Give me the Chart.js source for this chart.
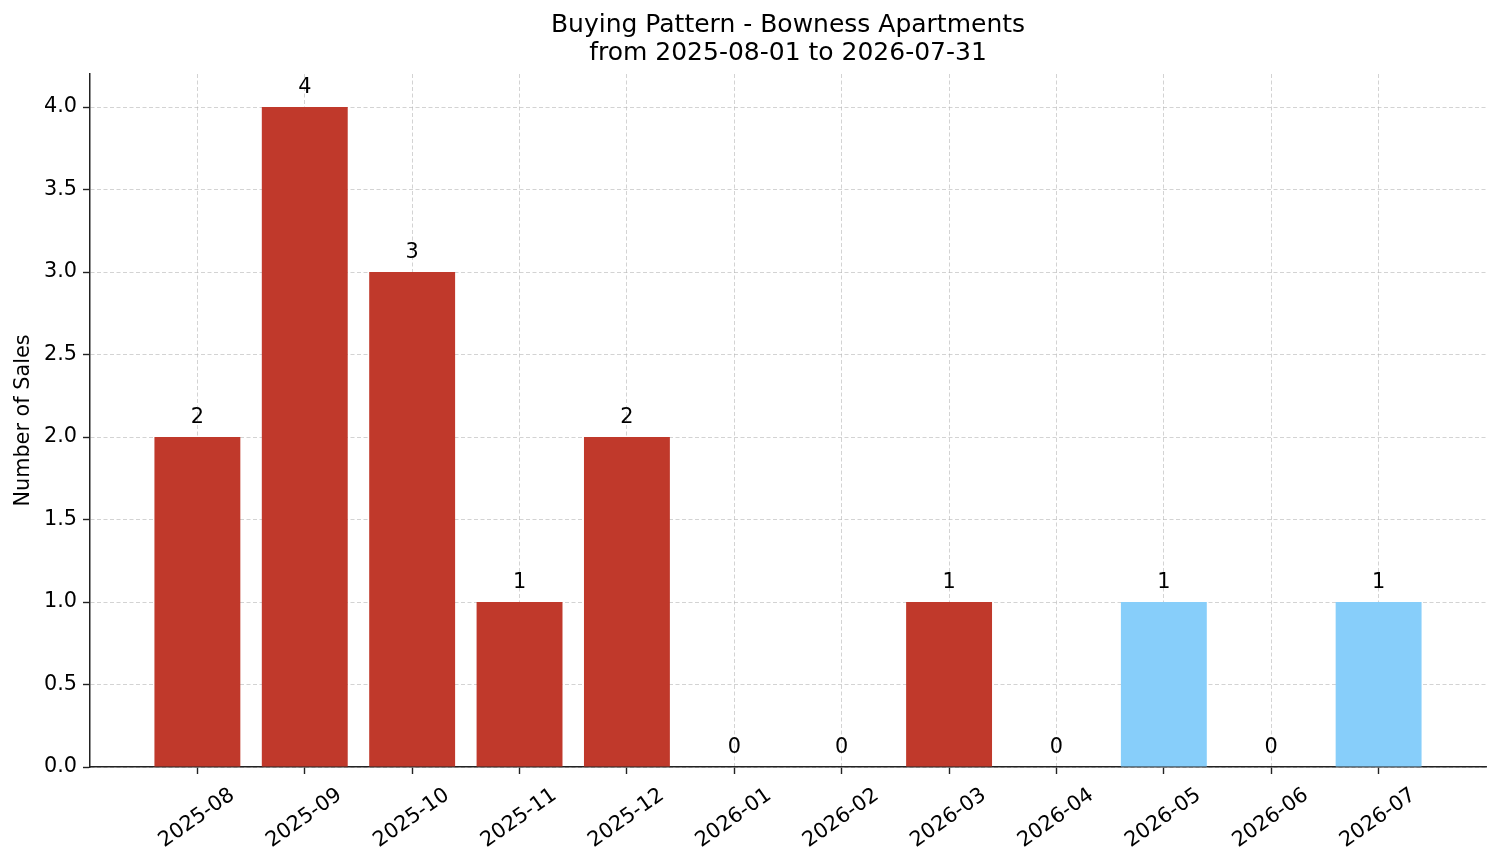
<!DOCTYPE html>
<html>
<head>
<meta charset="utf-8">
<script src="https://cdn.jsdelivr.net/npm/chart.js@4/dist/chart.umd.min.js"></script>
<style>
    html, body { margin: 0; padding: 0; background: #fff; }
    #wrap { width: 1501px; height: 863px; position: relative; }
</style>
</head>
<body>
<div id="wrap"><canvas id="salesChart"></canvas></div>
<script>
// Data
const months = ['2025-08', '2025-09', '2025-10', '2025-11', '2025-12', '2026-01',
                '2026-02', '2026-03', '2026-04', '2026-05', '2026-06', '2026-07'];
const sales = [2, 4, 3, 1, 2, 0, 0, 1, 0, 1, 0, 1];
const highlightMonths = ['2026-05', '2026-07'];
const yTicks = [0, 0.5, 1, 1.5, 2, 2.5, 3, 3.5, 4];
const titleLines = ['Buying Pattern - Bowness Apartments', 'from 2025-08-01 to 2026-07-31'];

const FONT = "'DejaVu Sans', sans-serif";
const RED = '#c0392b';
const BLUE = '#87cefa';
const GRID = 'rgba(185, 185, 185, 0.7)';
const SPINE = '#222';

// value labels above each bar + title centred over the plot area
const annotate = {
    id: 'annotate',
    afterDraw(chart) {
        const ctx = chart.ctx;
        const area = chart.chartArea;
        const meta = chart.getDatasetMeta(0);
        ctx.save();
        ctx.fillStyle = '#000';
        ctx.textAlign = 'center';

        ctx.font = '20.8px ' + FONT;
        ctx.textBaseline = 'alphabetic';
        meta.data.forEach((bar, i) => {
            ctx.fillText(String(sales[i]), bar.x, bar.y - 14);
        });

        ctx.font = '25px ' + FONT;
        ctx.textBaseline = 'middle';
        const cx = (area.left + area.right) / 2;
        titleLines.forEach((line, i) => {
            ctx.fillText(line, cx, area.top - 49 + i * 28);
        });
        ctx.restore();
    }
};

const gridOpts = {
    offset: false,
    color: GRID,
    lineWidth: 0.9,
    tickColor: SPINE,
    tickWidth: 1.4,
    tickLength: 7,
    tickBorderDash: []
};

new Chart(document.getElementById('salesChart'), {
    type: 'bar',
    data: {
        datasets: [{
            data: sales.map((v, i) => ({ x: i, y: v })),
            backgroundColor: months.map(m => highlightMonths.includes(m) ? BLUE : RED),
            barPercentage: 0.8,
            categoryPercentage: 1
        }]
    },
    options: {
        responsive: true,
        maintainAspectRatio: false,
        animation: false,
        layout: { padding: { left: 0, right: 15, top: 74, bottom: 0 } },
        plugins: {
            legend: { display: false },
            tooltip: { enabled: false },
            title: { display: false }
        },
        scales: {
            x: {
                type: 'linear',
                min: -1,
                max: 12,
                z: 1,
                offset: false,
                afterBuildTicks: scale => {
                    scale.ticks = months.map((m, i) => ({ value: i }));
                },
                afterFit: scale => {
                    scale.height = 96;
                    scale.paddingLeft = 0;
                    scale.paddingRight = 0;
                },
                ticks: {
                    callback: v => months[v],
                    color: '#000',
                    font: { family: FONT, size: 20.8 },
                    minRotation: 35,
                    maxRotation: 35,
                    autoSkip: false,
                    labelOffset: 35,
                    padding: 9
                },
                grid: gridOpts,
                border: { color: SPINE, width: 1.5, dash: [4, 2.5] }
            },
            y: {
                min: 0,
                max: 4.2,
                z: 1,
                afterBuildTicks: scale => {
                    scale.ticks = yTicks.map(v => ({ value: v }));
                },
                afterFit: scale => {
                    scale.width = 90;
                    scale.paddingTop = 0;
                    scale.paddingBottom = 0;
                },
                ticks: {
                    callback: v => Number(v).toFixed(1),
                    color: '#000',
                    font: { family: FONT, size: 20.8 },
                    padding: 6
                },
                grid: gridOpts,
                border: { color: SPINE, width: 1.5, dash: [4, 2.5] },
                title: {
                    display: true,
                    text: 'Number of Sales',
                    color: '#000',
                    font: { family: FONT, size: 20.8 },
                    padding: { top: 11, bottom: 0 }
                }
            }
        }
    },
    plugins: [annotate]
});
</script>
</body>
</html>
